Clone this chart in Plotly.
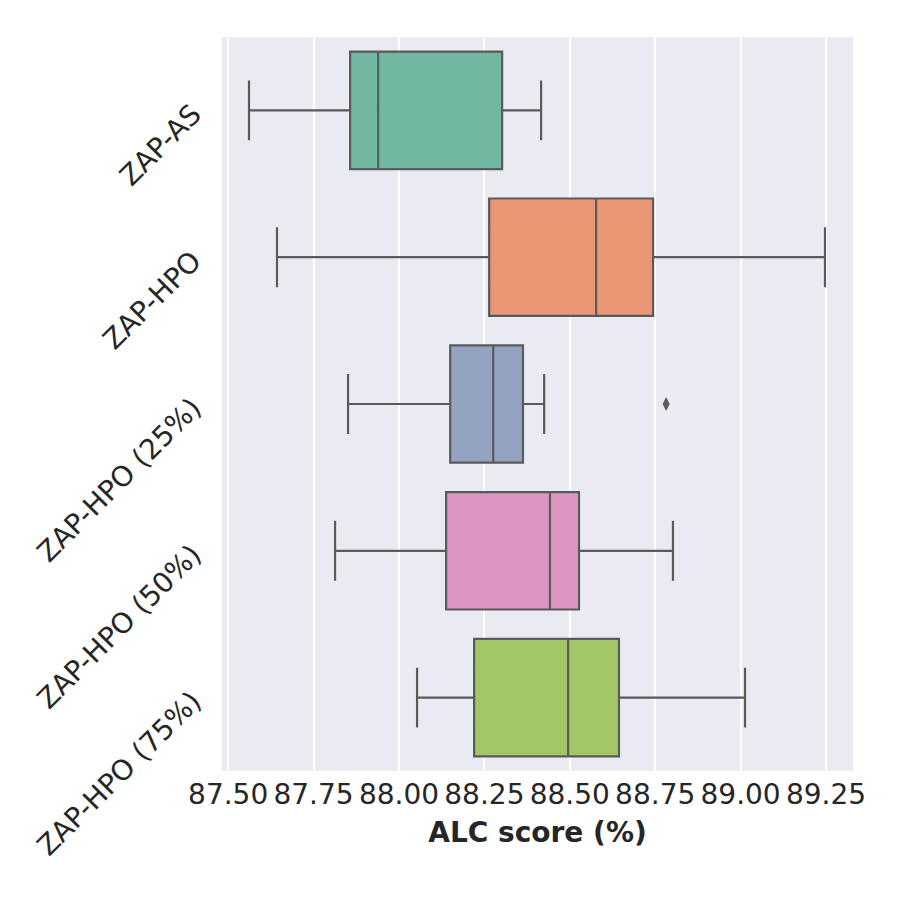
import plotly.graph_objects as go

# box statistics (ALC score, %)
methods = ["ZAP-AS", "ZAP-HPO", "ZAP-HPO (25%)", "ZAP-HPO (50%)", "ZAP-HPO (75%)"]
lower_whisker = [87.561, 87.643, 87.851, 87.813, 88.053]
q1 = [87.857, 88.264, 88.150, 88.138, 88.220]
median = [87.939, 88.577, 88.276, 88.442, 88.495]
q3 = [88.302, 88.744, 88.363, 88.527, 88.644]
upper_whisker = [88.416, 89.247, 88.425, 88.802, 89.013]

outlier_method = ["ZAP-HPO (25%)"]
outlier_value = [88.782]

x_ticks = [87.50, 87.75, 88.00, 88.25, 88.50, 88.75, 89.00, 89.25]

# Set2, desaturated like seaborn does
colors = ["#71b7a1", "#e99675", "#95a3c3", "#dc95c1", "#a2c764"]
line_color = "#5a5a5a"
font_family = "DejaVu Sans"

fig = go.Figure()
for i, name in enumerate(methods):
    fig.add_trace(go.Box(
        y=[name],
        q1=[q1[i]], median=[median[i]], q3=[q3[i]],
        lowerfence=[lower_whisker[i]], upperfence=[upper_whisker[i]],
        orientation="h",
        width=0.8,
        whiskerwidth=0.51,
        fillcolor=colors[i],
        line=dict(color=line_color, width=2.2),
        boxpoints=False,
        showlegend=False,
    ))

fig.add_trace(go.Scatter(
    x=outlier_value, y=outlier_method, mode="markers",
    marker=dict(symbol="diamond-tall", size=10, color=line_color),
    showlegend=False,
))

# page is drawn with the browser's 8px body margin, so margins are offset
fig.update_layout(
    width=900, height=900,
    margin=dict(l=214, r=55, t=29, b=137, autoexpand=False),
    paper_bgcolor="white",
    plot_bgcolor="#eaeaf2",
    boxmode="overlay",
    font=dict(family=font_family, size=28, color="#262626"),
)
fig.update_xaxes(
    range=[87.482, 89.329],
    tickvals=x_ticks,
    ticktext=[f"{v:.2f}" for v in x_ticks],
    showgrid=True, gridcolor="white", gridwidth=1.5,
    zeroline=False, showline=False, ticks="",
    ticklabelstandoff=4,
    title=dict(text="<b>ALC score (%)</b>", font=dict(size=28), standoff=12),
)
fig.update_yaxes(
    type="category",
    categoryorder="array", categoryarray=methods,
    range=[4.5, -0.5],
    showgrid=False, zeroline=False, showline=False, ticks="",
    tickangle=-45,
    ticklabelstandoff=28,
)

fig.write_html("out.html")
